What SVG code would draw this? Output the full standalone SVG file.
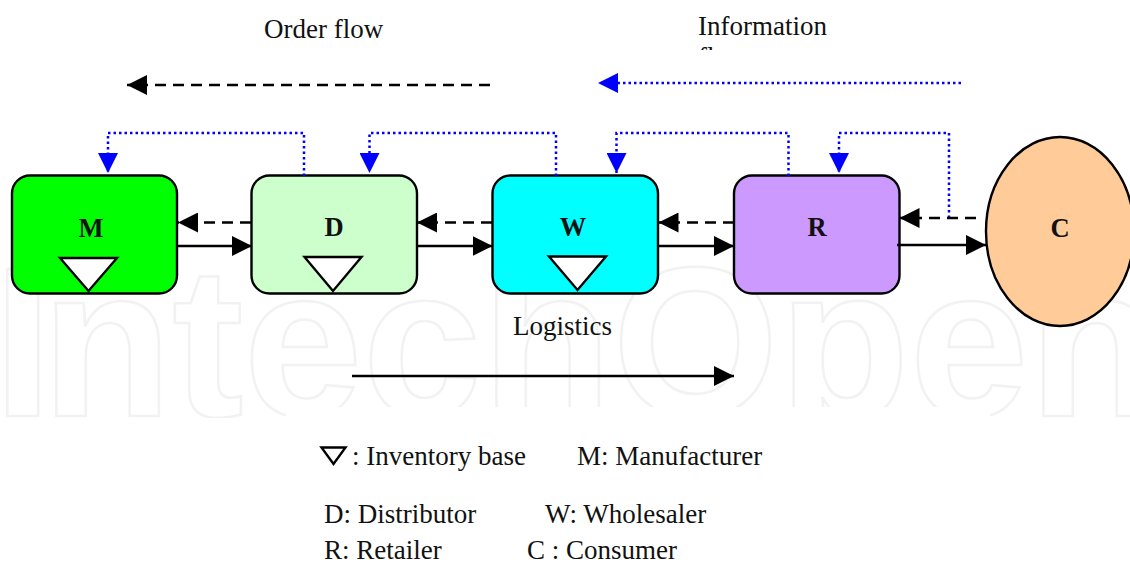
<svg xmlns="http://www.w3.org/2000/svg" width="1130" height="562" viewBox="0 0 1130 562">
<style>
text{font-family:"Liberation Serif","Times New Roman",serif;fill:#111}
.t{font-size:27px}
.b{font-size:26.5px;font-weight:bold;text-anchor:middle}
.wm{font-family:"Liberation Sans",Arial,sans-serif;font-size:214px;font-weight:bold;fill:none;stroke:#f2f2f2;stroke-width:2.5}
.box{stroke:#000;stroke-width:2.4}
.tri{fill:#fff;stroke:#000;stroke-width:2.4}
.solid{fill:none;stroke:#000;stroke-width:2.4}
.dash{fill:none;stroke:#000;stroke-width:2.4;stroke-dasharray:11 7}
.dot{fill:none;stroke:#0000ff;stroke-width:2.5;stroke-dasharray:2.5 3}
</style>
<defs>
<marker id="ak" markerUnits="userSpaceOnUse" markerWidth="20" markerHeight="20" refX="20" refY="10" orient="auto"><path d="M0 0L20 10L0 20Z" fill="#000"/></marker>
<marker id="ab" markerUnits="userSpaceOnUse" markerWidth="20" markerHeight="20" refX="20" refY="10" orient="auto"><path d="M0 0L20 10L0 20Z" fill="#0000ff"/></marker>
<clipPath id="cf"><rect x="690" y="0" width="150" height="50"/></clipPath>
<clipPath id="cw"><rect x="0" y="250" width="1130" height="168"/></clipPath>
</defs>
<g id="watermark">
<g clip-path="url(#cw)"><text class="wm" x="-7" y="416" dx="0 -11">IntechOpen</text></g>
<rect x="286" y="407" width="704" height="14" fill="#fff"/>
</g>
<g id="node-m"><rect class="box" x="12" y="175.500" width="165" height="118" rx="18" fill="#00ff00"/><text class="b" x="91" y="237">M</text><polygon class="tri" points="60,258 117,258 88.500,291"/></g>
<g id="node-d"><rect class="box" x="251.500" y="175.500" width="165.500" height="118" rx="18" fill="#ccffcc"/><text class="b" x="334" y="236">D</text><polygon class="tri" points="304.500,257 361.500,257 333,291"/></g>
<g id="node-w"><rect class="box" x="492.500" y="175.500" width="165.500" height="118" rx="18" fill="#00ffff"/><text class="b" x="573" y="236">W</text><polygon class="tri" points="549,256.500 606,256.500 577.500,290"/></g>
<g id="node-r"><rect class="box" x="734" y="175.500" width="165.500" height="118" rx="18" fill="#cc99ff"/><text class="b" x="817" y="236">R</text></g>
<g id="node-c"><ellipse class="box" cx="1060" cy="231.500" rx="74" ry="94.500" fill="#ffcc99"/><text class="b" x="1060" y="237">C</text></g>
<g id="connectors">
<path class="dash" d="M490 85H127" marker-end="url(#ak)"/>
<path class="dot" d="M961 83H598" marker-end="url(#ab)"/>
<path class="solid" d="M352 376H734" marker-end="url(#ak)"/>
<path class="dot" d="M304 176V133H108V173" marker-end="url(#ab)"/>
<path class="dot" d="M556 176V133H369.500V173" marker-end="url(#ab)"/>
<path class="dot" d="M788.500 176V133H616.500V173" marker-end="url(#ab)"/>
<path class="dot" d="M949 218V133H839V173" marker-end="url(#ab)"/>
<path class="dash" d="M251 222.500H178" marker-end="url(#ak)"/>
<path class="dash" d="M492 222.500H417" marker-end="url(#ak)"/>
<path class="dash" d="M734 222.500H658.500" marker-end="url(#ak)"/>
<path class="dash" d="M976 218H899.500" marker-end="url(#ak)"/>
<path class="solid" d="M177 246H252" marker-end="url(#ak)"/>
<path class="solid" d="M417 246H492.500" marker-end="url(#ak)"/>
<path class="solid" d="M658 246H734" marker-end="url(#ak)"/>
<path class="solid" d="M897 245H986" marker-end="url(#ak)"/>
</g>
<g id="labels">
<text class="t" x="264" y="38">Order flow</text>
<text class="t" x="698" y="35">Information</text>
<text class="t" x="698" y="66" clip-path="url(#cf)">flow</text>
<text class="t" x="513" y="335">Logistics</text>
<polygon class="tri" points="321.500,447.500 345.500,447.500 333.500,464"/>
<text class="t" x="352" y="465">: Inventory base</text>
<text class="t" x="577" y="465">M: Manufacturer</text>
<text class="t" x="324" y="523">D: Distributor</text>
<text class="t" x="545" y="523">W: Wholesaler</text>
<text class="t" x="324" y="559">R: Retailer</text>
<text class="t" x="527" y="559">C : Consumer</text>
</g>
</svg>
